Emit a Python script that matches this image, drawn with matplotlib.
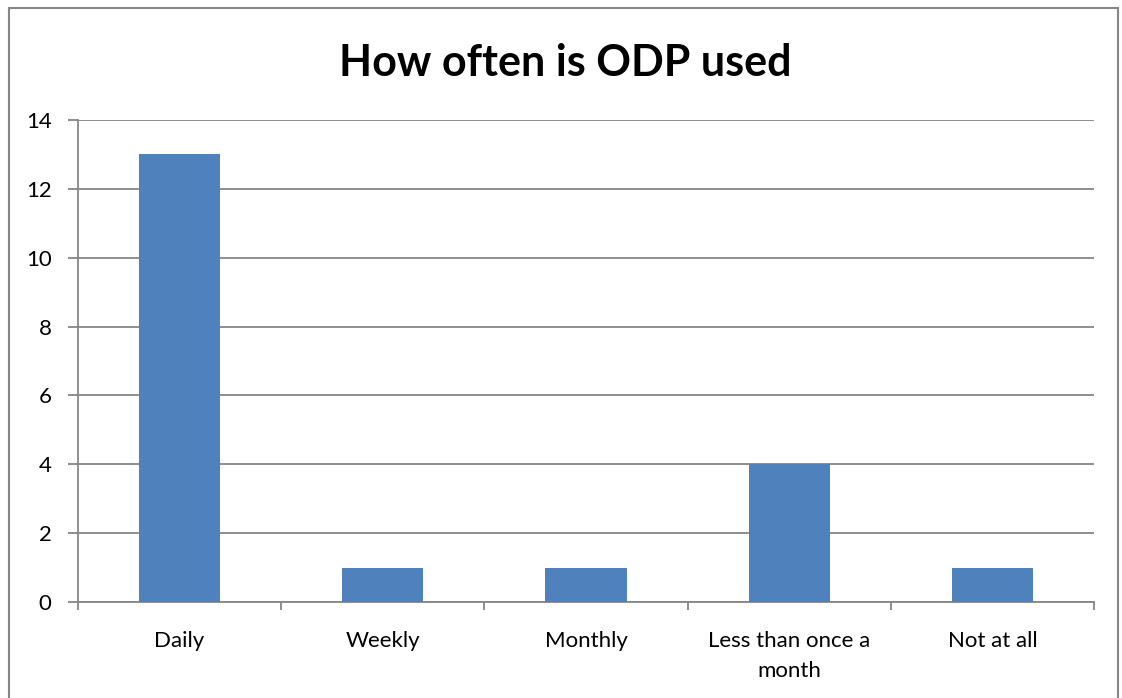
import matplotlib
matplotlib.use("Agg")
import matplotlib.pyplot as plt
from matplotlib.patches import Rectangle

categories = ["Daily", "Weekly", "Monthly", "Less than once a\nmonth", "Not at all"]
counts = [13, 1, 1, 4, 1]
y_ticks = [0, 2, 4, 6, 8, 10, 12, 14]

bar_color = "#4F81BD"
line_gray = "#868686"

plt.rcParams["font.family"] = ["Lato", "DejaVu Sans"]

fig = plt.figure(figsize=(11.22, 6.98), dpi=100)
ax = fig.add_axes([0.0695, 0.1375, 0.9055, 0.6905])

x = list(range(len(categories)))
ax.bar(x, counts, width=0.4, color=bar_color, zorder=3)

ax.set_xlim(-0.5, len(categories) - 0.5)
ax.set_ylim(0, 14)
ax.set_yticks(y_ticks)
ax.set_yticklabels([str(v) for v in y_ticks], fontsize=16)
ax.yaxis.grid(True, color=line_gray, linewidth=1.3, zorder=0)

# category labels sit between the boundary ticks
ax.set_xticks(x)
ax.set_xticklabels(categories, fontsize=16, linespacing=1.6)
ax.tick_params(axis="x", length=0, pad=21)
ax.set_xticks([i - 0.5 for i in range(len(categories) + 1)], minor=True)
ax.tick_params(axis="x", which="minor", length=6, width=1.3, color=line_gray)
ax.tick_params(axis="y", length=7, width=1.3, color=line_gray, pad=12)

for side in ["top", "right"]:
    ax.spines[side].set_visible(False)
for side in ["left", "bottom"]:
    ax.spines[side].set_color(line_gray)
    ax.spines[side].set_linewidth(1.3)

fig.text(0.504, 0.91, "How often is ODP used", ha="center", va="center",
         fontsize=31, fontweight="bold")

# chart area frame
fig.patches.append(Rectangle((9 / 1122, -0.02), 1109 / 1122, 1.02 - 8 / 698,
                             transform=fig.transFigure, fill=False,
                             edgecolor=line_gray, linewidth=1.5))

fig.savefig("out.png", dpi=100)
